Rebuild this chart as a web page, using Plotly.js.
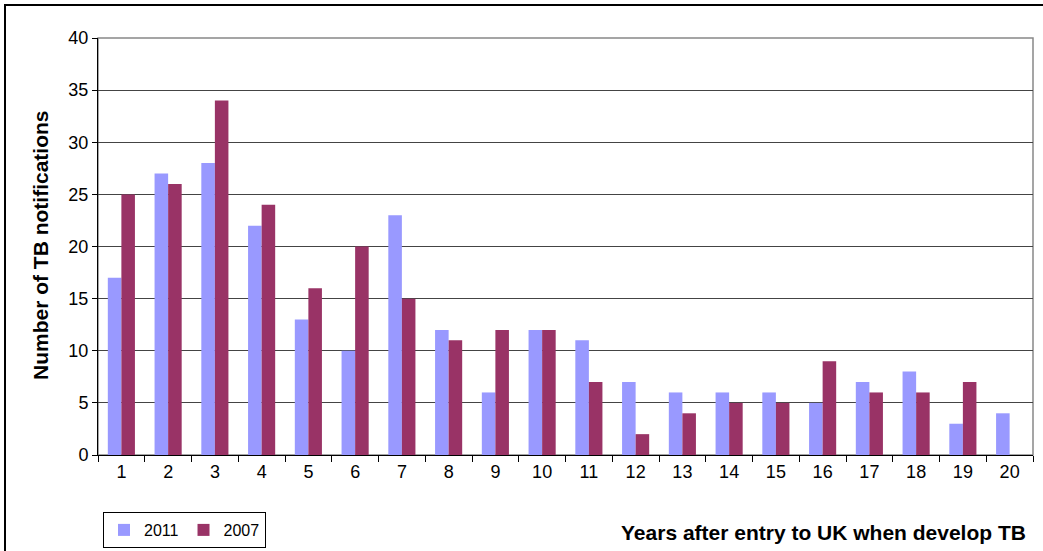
<!DOCTYPE html>
<html>
<head>
<meta charset="utf-8">
<script src="https://cdn.plot.ly/plotly-3.0.1.min.js"></script>
<style>html,body{margin:0;padding:0;background:#fff;}#chart{width:1043px;height:551px;}</style>
</head>
<body>
<div id="chart"></div>
<script>
const years = ["1","2","3","4","5","6","7","8","9","10","11","12","13","14","15","16","17","18","19","20"];
const values2011 = [17,27,28,22,13,10,23,12,6,12,11,7,6,6,6,5,7,8,3,4];
const values2007 = [25,26,34,24,16,20,15,11,12,12,7,2,4,5,5,9,6,6,7,null];
const yTicks = [0,5,10,15,20,25,30,35,40];

const W = 1043, H = 551;
const L = 98, R = 1033, T = 38, B = 455;
const px = x => (x - L) / (R - L);
const py = y => (B - y) / (B - T);

const font = "Liberation Sans, Arial, sans-serif";

const traces = [
  {type: "bar", name: "2011", x: years, y: values2011, marker: {color: "#9999FF", line: {width: 0}}},
  {type: "bar", name: "2007", x: years, y: values2007, marker: {color: "#993366", line: {width: 0}}}
];

const layout = {
  width: W, height: H,
  margin: {l: L, r: W - R, t: T, b: H - B, pad: 0, autoexpand: false},
  paper_bgcolor: "#fff", plot_bgcolor: "#fff",
  font: {family: font, size: 18, color: "#000"},
  barmode: "group", bargap: 0.42, bargroupgap: 0,
  showlegend: true,
  legend: {
    orientation: "h", xref: "container", yref: "container",
    x: 103 / W, y: (H - 512) / H, xanchor: "left", yanchor: "top",
    bordercolor: "#000", borderwidth: 1, bgcolor: "#fff",
    font: {family: font, size: 16, color: "#000"},
    itemwidth: 30, tracegroupgap: 0
  },
  xaxis: {
    type: "category", tickson: "boundaries", ticks: "outside", ticklen: 6, tickcolor: "#000",
    showline: true, linecolor: "#000", linewidth: 1, mirror: false,
    showgrid: false, tickfont: {family: font, size: 18}, fixedrange: true
  },
  yaxis: {
    range: [0, 40], tickvals: yTicks, ticks: "outside", ticklen: 5, tickcolor: "#000",
    showline: true, linecolor: "#000", linewidth: 1,
    showgrid: true, gridcolor: "#444", gridwidth: 1, zeroline: false,
    tickfont: {family: font, size: 18}, fixedrange: true
  },
  shapes: [
    {type: "rect", xref: "paper", yref: "paper", x0: 0, x1: 1, y0: 0, y1: 1, line: {color: "#888", width: 1.5}, layer: "below"},
    {type: "rect", xref: "paper", yref: "paper", x0: px(5), x1: px(1060), y0: py(5), y1: py(580), line: {color: "#000", width: 2}}
  ],
  annotations: [
    {text: "<b>Number of TB notifications</b>", xref: "paper", yref: "paper", x: px(40), y: py(245), textangle: -90,
     showarrow: false, xanchor: "center", yanchor: "middle", font: {family: font, size: 21, color: "#000"}},
    {text: "<b>Years after entry to UK when develop TB</b>", xref: "paper", yref: "paper", x: px(1028), y: py(532),
     showarrow: false, xanchor: "right", yanchor: "middle", font: {family: font, size: 21, color: "#000"}}
  ]
};

Plotly.newPlot("chart", traces, layout, {displayModeBar: false, staticPlot: true});
</script>
</body>
</html>
